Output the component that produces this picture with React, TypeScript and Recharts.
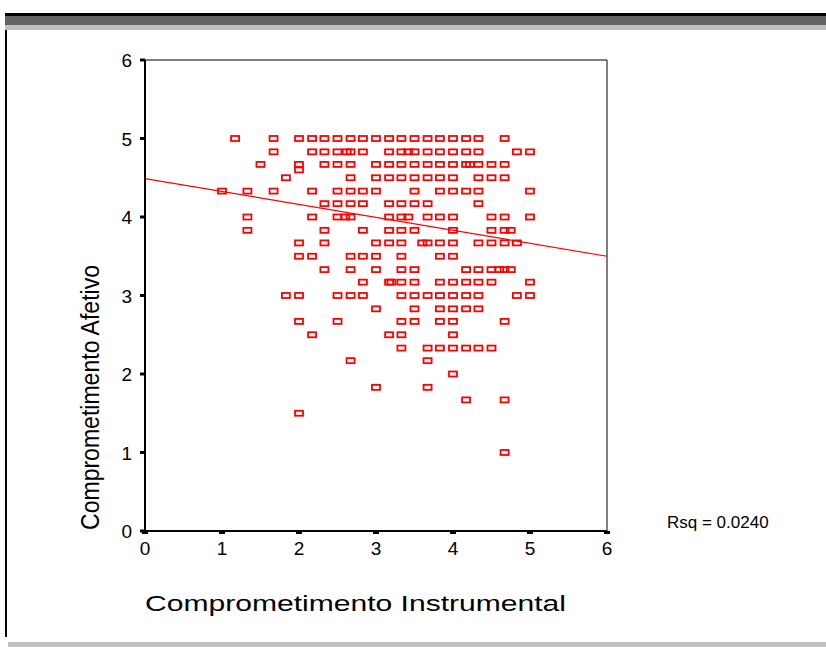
import React from 'react';
import { ScatterChart, Scatter, XAxis, YAxis, ReferenceLine, Label } from 'recharts';

// x values (Comprometimento Instrumental) grouped by y value (Comprometimento Afetivo)
const row500 = [1.17, 1.67, 2, 2.17, 2.33, 2.5, 2.67, 2.83, 3, 3.17, 3.33, 3.5, 3.67, 3.83, 4, 4.17, 4.33, 4.67];
const row483 = [1.67, 2.17, 2.33, 2.5, 2.62, 2.67, 2.83, 3.17, 3.33, 3.42, 3.5, 3.67, 3.83, 4, 4.17, 4.33, 4.83, 5];
const row467 = [1.5, 2, 2.33, 2.5, 2.67, 3, 3.17, 3.33, 3.5, 3.67, 3.83, 4, 4.17, 4.22, 4.33, 4.5, 4.67];
const row460 = [2];
const row450 = [1.83, 2.67, 3, 3.17, 3.33, 3.5, 3.67, 3.83, 4, 4.33, 4.5, 4.67];
const row433 = [1, 1.33, 1.67, 2.17, 2.5, 2.67, 2.83, 3, 3.5, 3.83, 4, 4.17, 4.33, 5];
const row417 = [2.33, 2.5, 2.67, 2.83, 3.17, 3.33, 3.5, 3.67, 4.33];
const row400 = [1.33, 2.17, 2.5, 2.6, 2.67, 3.17, 3.33, 3.42, 3.67, 3.83, 4, 4.5, 4.67, 5];
const row383 = [1.33, 2.33, 2.83, 3.17, 3.33, 3.5, 4, 4.5, 4.67, 4.75];
const row367 = [2, 2.33, 3, 3.17, 3.33, 3.6, 3.67, 3.83, 4, 4.33, 4.5, 4.67, 4.83];
const row350 = [2, 2.17, 2.67, 2.83, 3, 3.33, 3.83, 4];
const row333 = [2.33, 2.67, 3, 3.33, 3.5, 4.17, 4.33, 4.5, 4.6, 4.67, 4.75];
const row317 = [2.83, 3.17, 3.2, 3.33, 3.5, 3.83, 4, 4.17, 4.33, 4.5, 5];
const row300 = [1.83, 2, 2.5, 2.67, 2.83, 3.33, 3.5, 3.67, 3.83, 4, 4.17, 4.33, 4.83, 5];
const row283 = [3, 3.5, 3.83, 4, 4.17, 4.33];
const row267 = [2, 2.5, 3.33, 3.5, 3.83, 4, 4.67];
const row250 = [2.17, 3.17, 3.33, 4];
const row233 = [3.33, 3.67, 3.83, 4, 4.17, 4.33, 4.5];
const row217 = [2.67, 3.67];
const row200 = [4];
const row183 = [3, 3.67];
const row167 = [4.17, 4.67];
const row150 = [2];
const row100 = [4.67];

const rows: [number, number[]][] = [
  [5, row500], [4.83, row483], [4.67, row467], [4.6, row460], [4.5, row450],
  [4.33, row433], [4.17, row417], [4, row400], [3.83, row383], [3.67, row367],
  [3.5, row350], [3.33, row333], [3.17, row317], [3, row300], [2.83, row283],
  [2.67, row267], [2.5, row250], [2.33, row233], [2.17, row217], [2, row200],
  [1.83, row183], [1.67, row167], [1.5, row150], [1, row100],
];

const points = rows.flatMap(([y, xs]) => xs.map((x) => ({ x, y })));

const ticks = [0, 1, 2, 3, 4, 5, 6];
// linear fit line end points
const fitLine = [{ x: 0, y: 4.49 }, { x: 6, y: 3.5 }];

const font = 'Arial, "Liberation Sans", sans-serif';

const Square = (props: any) => {
  const { cx, cy } = props;
  return <rect x={cx - 4} y={cy - 2.5} width={8} height={5} fill="none" stroke="#ff0000" strokeWidth={1.8} />;
};

const XTick = (props: any) => {
  const { x, payload } = props;
  return (
    <text x={x} y={555} textAnchor="middle" fontSize={19} fontFamily={font} fill="#000">
      {payload.value}
    </text>
  );
};

const YTick = (props: any) => {
  const { y, payload } = props;
  return (
    <text x={132} y={y + 7} textAnchor="end" fontSize={19} fontFamily={font} fill="#000">
      {payload.value}
    </text>
  );
};

export default function App() {
  return (
    <div style={{ position: 'absolute', left: 0, top: 0, width: 826, height: 647, background: '#fff', fontFamily: font }}>
      <div style={{ position: 'absolute', left: 5, top: 13, width: 821, height: 3, background: '#000' }} />
      <div style={{ position: 'absolute', left: 5, top: 16, width: 821, height: 9, background: '#646464' }} />
      <div style={{ position: 'absolute', left: 5, top: 25, width: 821, height: 5, background: '#c0c0c0' }} />
      <div style={{ position: 'absolute', left: 5, top: 30, width: 2, height: 607, background: '#000' }} />
      <div style={{ position: 'absolute', left: 8, top: 642, width: 818, height: 5, background: '#c0c0c0' }} />

      <ScatterChart width={826} height={647} margin={{ top: 60, right: 219, bottom: 86, left: 85 }} style={{ position: 'absolute', left: 0, top: 0 }}>
        <XAxis
          type="number"
          dataKey="x"
          domain={[0, 6]}
          ticks={ticks}
          height={30}
          axisLine={{ stroke: '#000', strokeWidth: 2 }}
          tickLine={{ stroke: '#000', strokeWidth: 6 }}
          tickSize={3}
          tick={<XTick />}
        >
          <Label
            content={() => (
              <text x={145} y={611} fontSize={22} fontFamily={font} fill="#000" textLength={421} lengthAdjust="spacingAndGlyphs">
                Comprometimento Instrumental
              </text>
            )}
          />
        </XAxis>
        <YAxis
          type="number"
          dataKey="y"
          domain={[0, 6]}
          ticks={ticks}
          width={60}
          axisLine={{ stroke: '#000', strokeWidth: 2 }}
          tickLine={{ stroke: '#000', strokeWidth: 3 }}
          tickSize={5}
          tick={<YTick />}
        >
          <Label
            content={() => (
              <text
                x={0}
                y={0}
                transform="translate(99, 530) rotate(-90)"
                fontSize={25}
                fontFamily={font}
                fill="#000"
                textLength={265}
                lengthAdjust="spacingAndGlyphs"
              >
                Comprometimento Afetivo
              </text>
            )}
          />
        </YAxis>
        <ReferenceLine y={6} stroke="#000" strokeWidth={1} />
        <ReferenceLine x={6} stroke="#000" strokeWidth={1} />
        <ReferenceLine segment={fitLine} stroke="#ff0000" strokeWidth={1.2} />
        <Scatter data={points} shape={Square} isAnimationActive={false} />
      </ScatterChart>

      <div style={{ position: 'absolute', left: 667, top: 513, fontSize: 17, color: '#000', whiteSpace: 'nowrap' }}>
        Rsq = 0.0240
      </div>
    </div>
  );
}
